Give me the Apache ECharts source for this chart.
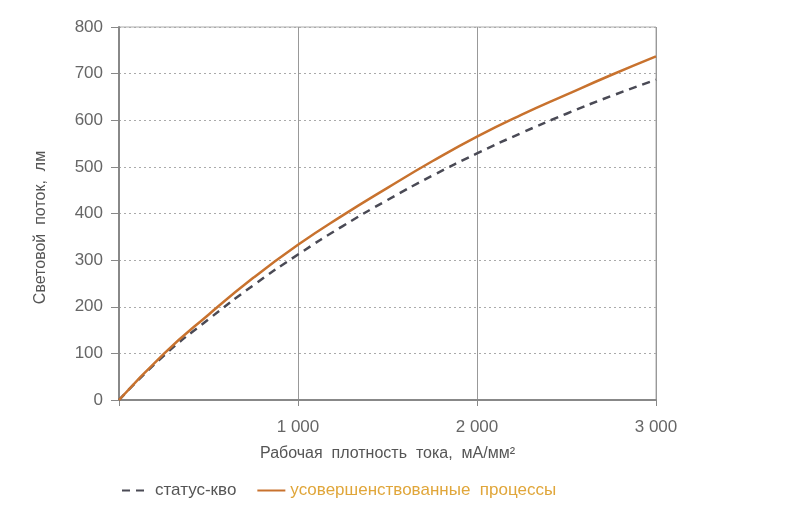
<!DOCTYPE html>
<html><head><meta charset="utf-8">
<script src="https://cdn.jsdelivr.net/npm/echarts@6/dist/echarts.min.js"></script>
<style>html,body{margin:0;padding:0;background:#fff}#c{width:800px;height:518px}</style>
</head><body><div id="c"></div>
<script>
const xValues = [0, 250, 500, 750, 1000, 1250, 1500, 1750, 2000, 2250, 2500, 2750, 3000];
const statusQuo = [0, 95, 173, 246, 312, 373, 429, 481, 529, 573, 614, 652, 687];
const improved = [0, 99, 183, 262, 333, 396, 455, 512, 565, 612, 655, 697, 737];
const seriesNames = ['статус-кво', 'усовершенствованные  процессы'];
const xAxisTitle = 'Рабочая  плотность  тока,  мА/мм²';
const yAxisTitle = 'Световой  поток,  лм';

const chart = echarts.init(document.getElementById('c'));
const pair = (ys) => xValues.map((x, i) => [x, ys[i]]);
chart.setOption({
  animation: false,
  grid: { left: 119, right: 144, top: 27, bottom: 118, show: true, borderColor: '#aaa', borderWidth: 1 },
  legend: {
    left: 116, top: 477, itemWidth: 28, itemHeight: 10, itemGap: 20,
    textStyle: { fontFamily: 'Liberation Sans, Arial', fontSize: 17 },
    itemStyle: { opacity: 0 },
    data: [
      { name: seriesNames[0], textStyle: { color: '#555' } },
      { name: seriesNames[1], textStyle: { color: '#e0a63a' } }
    ]
  },
  xAxis: {
    type: 'value', min: 0, max: 3000, interval: 1000,
    name: xAxisTitle, nameLocation: 'middle', nameGap: 46,
    nameTextStyle: { color: '#555', fontSize: 16, fontFamily: 'Liberation Sans, Arial' },
    axisLine: { show: true, lineStyle: { color: '#888', width: 2 } },
    axisTick: { show: true, length: 6, lineStyle: { color: '#888' } },
    axisLabel: { color: '#666', fontSize: 17, margin: 19, fontFamily: 'Liberation Sans, Arial',
      formatter: v => v === 0 ? '' : String(v).replace(/\B(?=(\d{3})+(?!\d))/g, ' ') },
    splitLine: { show: true, lineStyle: { color: '#999', width: 1 } }
  },
  yAxis: {
    type: 'value', min: 0, max: 800, interval: 100,
    name: yAxisTitle, nameLocation: 'middle', nameGap: 70, nameRotate: 90,
    nameTextStyle: { color: '#555', fontSize: 16, fontFamily: 'Liberation Sans, Arial', padding: [0, 28, 0, 0] },
    axisLine: { show: true, lineStyle: { color: '#888', width: 2 } },
    axisTick: { show: true, length: 8, lineStyle: { color: '#888' } },
    axisLabel: { color: '#666', fontSize: 17, margin: 16, fontFamily: 'Liberation Sans, Arial' },
    splitLine: { show: true, lineStyle: { color: '#aaa', width: 1, type: [2, 3] } }
  },
  series: [
    { name: seriesNames[0], type: 'line', smooth: true, symbol: 'none', data: pair(statusQuo),
      lineStyle: { color: '#4a4a55', width: 2.5, type: [8, 6] }, itemStyle: { color: '#4a4a55' }, z: 3 },
    { name: seriesNames[1], type: 'line', smooth: true, symbol: 'none', data: pair(improved),
      lineStyle: { color: '#c8722e', width: 2.5 }, itemStyle: { color: '#c8722e' }, z: 4 }
  ]
});
</script></body></html>
